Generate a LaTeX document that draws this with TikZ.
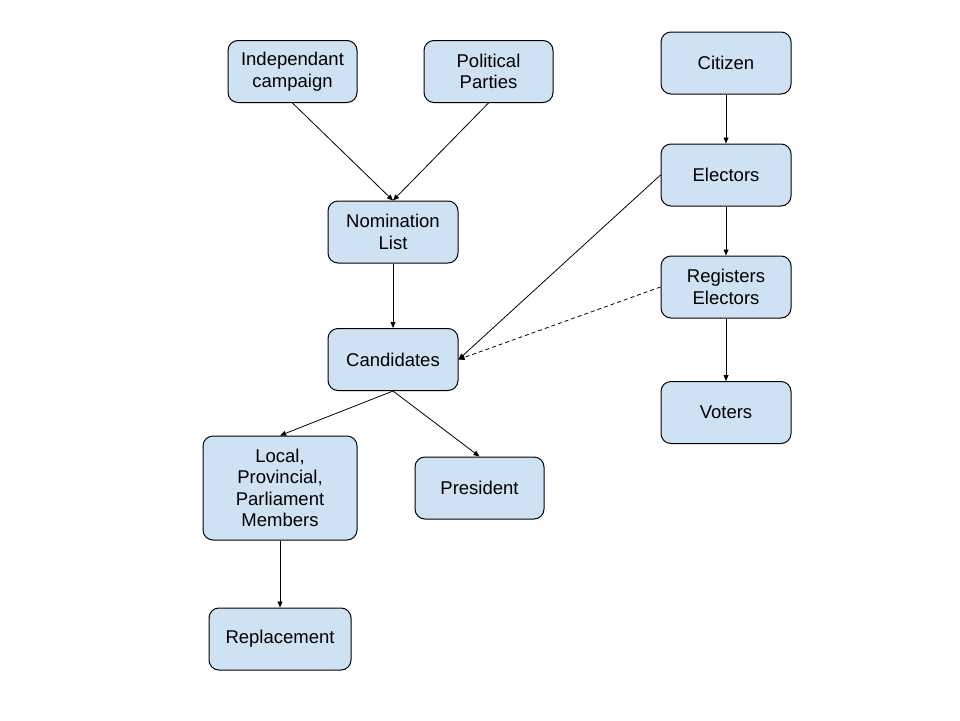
\documentclass[tikz,border=0pt]{standalone}
\usepackage{fontspec}
\setmainfont{Liberation Sans}
\usetikzlibrary{arrows.meta}
\definecolor{boxfill}{HTML}{CFE2F3}
\begin{document}
\begin{tikzpicture}[x=1pt,y=-1pt,
  box/.style={draw=black, fill=boxfill, line width=1pt, rounded corners=10pt,
    align=center, inner sep=0pt, minimum width=#1, minimum height=62pt,
    font=\fontsize{18.5}{21.5}\selectfont},
  box/.default=130pt,
  conn/.style={line width=0.8pt, -{Triangle[length=6pt,width=5pt]}},
  dashconn/.style={conn, dash pattern=on 4pt off 3pt}]
\useasboundingbox (0,0) rectangle (960,720);
\node[box=129pt] (ind) at (292.5,71.5) {Independant\\campaign};
\node[box=129pt] (pol) at (488.5,71.5) {Political\\Parties};
\node[box] (cit) at (726,63) {Citizen};
\node[box] (ele) at (726,175) {Electors};
\node[box] (reg) at (726,287) {Registers\\Electors};
\node[box] (vot) at (726,412.5) {Voters};
\node[box] (nom) at (393,232) {Nomination\\List};
\node[box] (can) at (393,359.5) {Candidates};
\node[box=154pt, minimum height=104pt] (loc) at (280,488) {Local,\\Provincial,\\Parliament\\Members};
\node[box=129pt] (pre) at (479.5,488) {President};
\node[box=142pt] (rep) at (280,639) {Replacement};
\draw[conn] (ind.south) -- (nom.north);
\draw[conn] (pol.south) -- (nom.north);
\draw[conn] (nom.south) -- (can.north);
\draw[conn] (cit.south) -- (ele.north);
\draw[conn] (ele.south) -- (reg.north);
\draw[conn] (reg.south) -- (vot.north);
\draw[conn] (ele.west) -- (can.east);
\draw[dashconn] (reg.west) -- (can.east);
\draw[conn] (can.south) -- (loc.north);
\draw[conn] (can.south) -- (pre.north);
\draw[conn] (loc.south) -- (rep.north);
\end{tikzpicture}
\end{document}
